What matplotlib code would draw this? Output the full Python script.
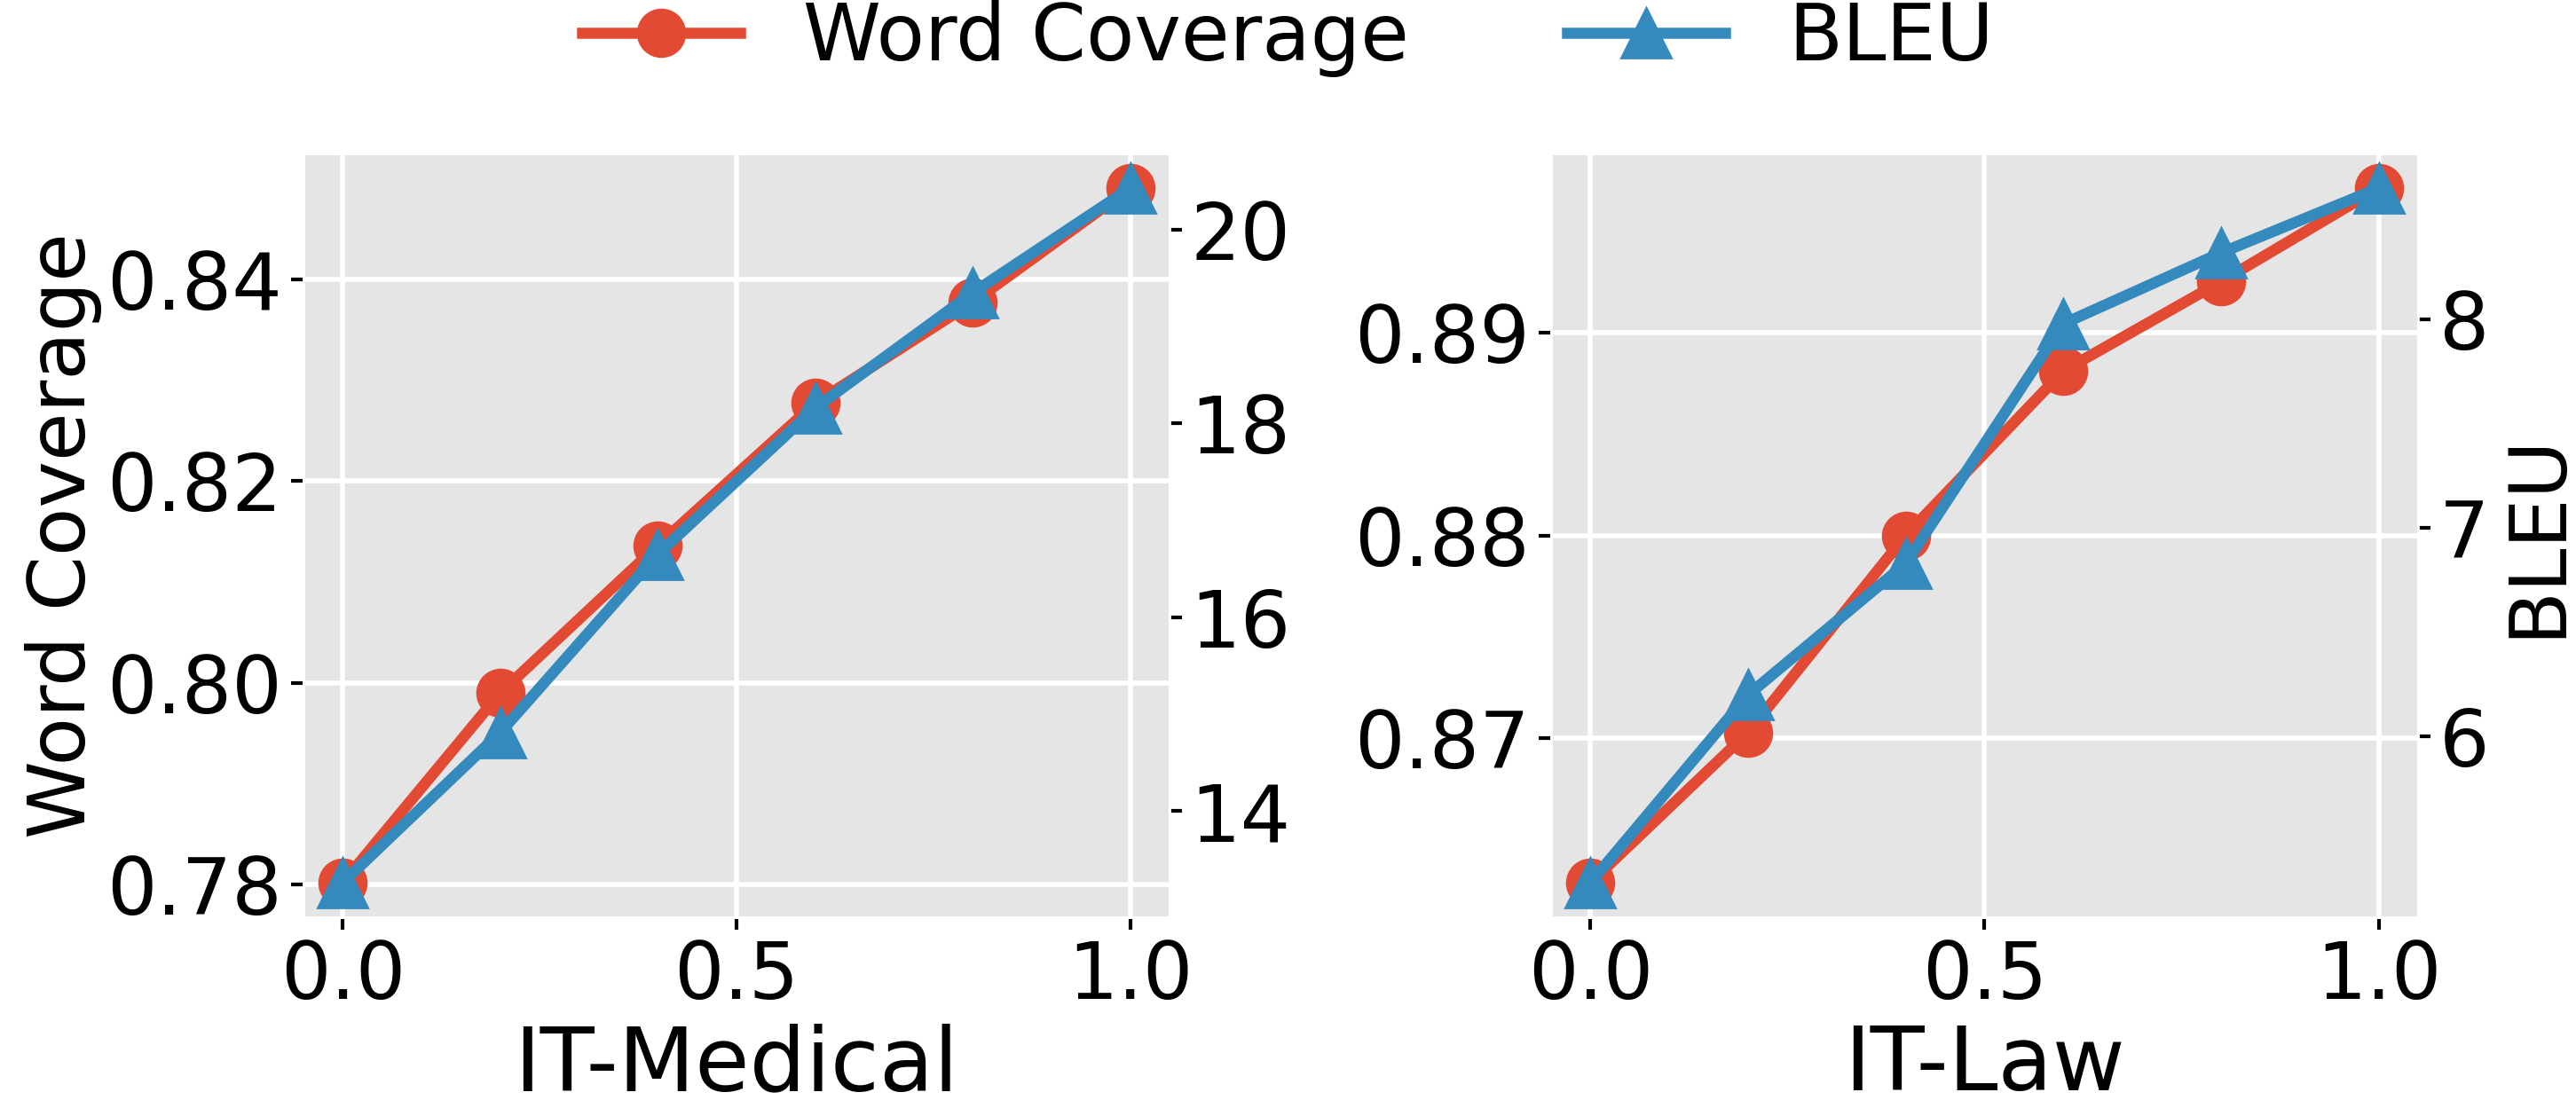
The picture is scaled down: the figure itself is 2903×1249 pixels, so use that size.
import matplotlib
matplotlib.use("Agg")
import matplotlib.pyplot as plt

# mixing ratio on x axis
x = [0.0, 0.2, 0.4, 0.6, 0.8, 1.0]

# IT-Medical
med_cov = [0.7802, 0.7990, 0.8136, 0.8277, 0.8377, 0.8490]
med_bleu = [13.26, 14.81, 16.65, 18.16, 19.35, 20.43]

# IT-Law
law_cov = [0.8629, 0.8703, 0.8800, 0.8881, 0.8925, 0.8971]
law_bleu = [5.30, 6.20, 6.83, 7.98, 8.32, 8.63]

paneles = [("IT-Medical", med_cov, med_bleu, [0.78, 0.80, 0.82, 0.84], [14, 16, 18, 20]),
           ("IT-Law", law_cov, law_bleu, [0.87, 0.88, 0.89], [6, 7, 8])]

plt.style.use("ggplot")
plt.rcParams["font.family"] = "DejaVu Sans"
plt.rcParams["grid.linewidth"] = 2.0

rojo = "#E24A33"
azul = "#348ABD"

fig = plt.figure(figsize=(14.515, 6.245), dpi=200)
posiciones = [[0.1178, 0.1721, 0.3362, 0.6894],
              [0.6021, 0.1721, 0.3366, 0.6894]]

for i, (nombre, cov, bleu, yt1, yt2) in enumerate(paneles):
    ax = fig.add_axes(posiciones[i])
    ax2 = ax.twinx()
    l1, = ax.plot(x, cov, color=rojo, marker="o", markersize=19, linewidth=4.5, label="Word Coverage")
    l2, = ax2.plot(x, bleu, color=azul, marker="^", markersize=20, linewidth=4.5, label="BLEU")
    ax2.grid(False)
    ax.set_yticks(yt1)
    ax2.set_yticks(yt2)
    ax.set_xticks([0.0, 0.5, 1.0])
    ax.set_xticklabels(["0.0", "0.5", "1.0"])
    ax.set_yticklabels([f"{v:.2f}" for v in yt1])
    for a in (ax, ax2):
        a.tick_params(labelsize=32, colors="black", length=5, width=1.5)
    ax.set_xlabel(nombre, fontsize=36, color="black", labelpad=3)
    if i == 0:
        ax.set_ylabel("Word Coverage", fontsize=32, color="black", labelpad=2)
    else:
        ax2.set_ylabel("BLEU", fontsize=32, color="black", labelpad=4)

fig.legend([l1, l2], ["Word Coverage", "BLEU"], loc="center", bbox_to_anchor=(0.5, 0.965),
           ncol=2, frameon=False, fontsize=32, columnspacing=2.0, handlelength=2.0)

fig.savefig("out.png", dpi=200)
